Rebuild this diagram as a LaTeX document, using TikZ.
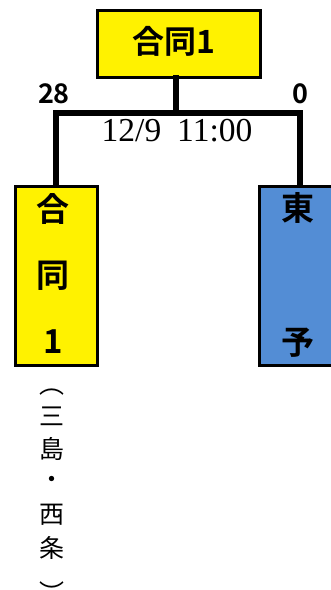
\documentclass[tikz,border=0pt]{standalone}
\usepackage{fontspec}
\newfontfamily\gothb{Noto Sans CJK JP Bold}
\newfontfamily\goth{Noto Sans CJK JP}
\newfontfamily\serifd{Liberation Serif}
\begin{document}
\begin{tikzpicture}[x=1pt,y=-1pt,
  box/.style={draw=black,line width=3pt,inner sep=0pt,anchor=north west},
  conn/.style={line width=6.5pt,line join=miter,line cap=rect},
  topt/.style={font=\gothb\fontsize{32}{32}\selectfont,inner sep=0pt},
  bigt/.style={font=\gothb\fontsize{33}{33}\selectfont,inner sep=0pt},
  score/.style={font=\gothb\fontsize{27}{27}\selectfont,inner sep=0pt},
  vt/.style={font=\goth\fontsize{25}{25}\selectfont,inner sep=0pt}]
\useasboundingbox (0,0) rectangle (331,590);
\clip (0,0) rectangle (331,590);
% boxes
\node[box,fill=yellow,minimum width=163pt,minimum height=67pt] (top) at (95.5,8.5) {};
\node[box,fill=yellow,minimum width=82pt,minimum height=179pt] (L) at (13.5,184.5) {};
\node[box,fill={rgb,255:red,83;green,141;blue,213},minimum width=82pt,minimum height=179pt] (R) at (257.5,184.5) {};
% connectors
\coordinate (mid) at (176,113);
\draw[conn] (top.south -| mid) -- (mid);
\draw[conn] (L.north) |- (mid) -| (R.north);
% texts
\node[topt] (tt) at (174,41) {合同1};
\node[bigt] (l1) at (53,209) {合};
\node[bigt] (l2) at (53,276) {同};
\node[bigt] (l3) at (53,342) {1};
\node[bigt] (r1) at (298,208) {東};
\node[bigt] (r2) at (298,343) {予};
\node[score] (s1) at (54,94) {28};
\node[score] (s2) at (300,94) {0};
\node[font=\serifd\fontsize{33.5}{33.5}\selectfont,inner sep=0pt] (dt) at (177,131) {12/9\hspace{16pt}11:00};
\node[vt] (v1) at (52,392) {︵};
\node[vt] (v2) at (52,416) {三};
\node[vt] (v3) at (52,449) {島};
\node[vt] (v4) at (52,482) {・};
\node[vt] (v5) at (52,515) {西};
\node[vt] (v6) at (52,548) {条};
\node[vt] (v7) at (52,584) {\raisebox{-18pt}[0pt][0pt]{︶}};
\end{tikzpicture}
\end{document}
